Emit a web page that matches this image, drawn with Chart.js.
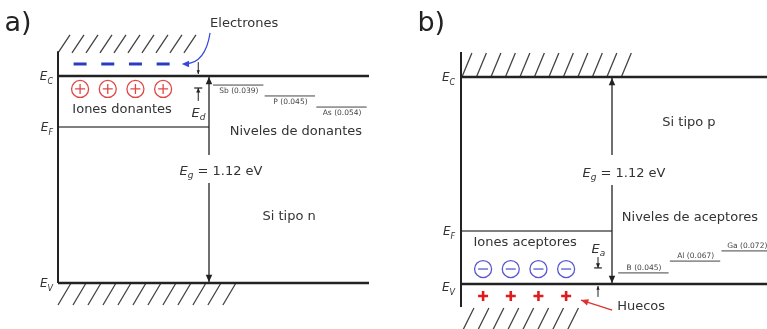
<!DOCTYPE html>
<html>
<head>
<meta charset="utf-8">
<script src="https://cdn.jsdelivr.net/npm/chart.js@4.4.1/dist/chart.umd.min.js"></script>
<style>
  body { margin: 0; background: #fff; }
  .panel { position: absolute; top: 0; width: 383px; height: 329px; }
</style>
</head>
<body>
<div class="panel" style="left:0"><canvas id="panelA" width="383" height="329"></canvas></div>
<div class="panel" style="left:384px"><canvas id="panelB" width="383" height="329"></canvas></div>
<script>
// --- DATOS DEL ESQUEMA (energias en eV medidas desde EV, no a escala) ---
const EV = 0;
const EC = 1.12;
const textoGap = ' = 1.12 eV';

// a) Si tipo n
const donantes = ['Sb (0.039)', 'P (0.045)', 'As (0.054)'];
const nivelesDonantes = [1.071, 1.012, 0.952];
const nivelFermiN = 0.844;
const nivelIonesDonantes = 1.05;
const nivelElectrones = 1.185;

// b) Si tipo p
const aceptores = ['B (0.045)', 'Al (0.067)', 'Ga (0.072)'];
const nivelesAceptores = [0.060, 0.124, 0.179];
const nivelFermiP = 0.287;
const nivelIonesAceptores = 0.081;
const nivelHuecos = -0.065;

// --- DISPOSICION (fraccion del ancho de la banda) ---
const xFlecha = 0.4855;
const xIones = [0.071, 0.160, 0.249, 0.338];
const anchoNivel = 0.166;
const fuente = '"DejaVu Sans", Verdana, sans-serif';
const colorLinea = '#222';
const colorTexto = '#333';

// segmentos [[x0,y0,x1,y1], ...] -> puntos separados por huecos
function segmentos(lista) {
    const d = [];
    lista.forEach(s => {
        d.push({ x: s[0], y: s[1] }, { x: s[2], y: s[3] }, { x: s[2], y: null });
    });
    return d;
}

function rayado(x0, n, paso, yBase, yTope, dx) {
    const s = [];
    for (let i = 0; i < n; i++) s.push([x0 + i * paso, yBase, x0 + i * paso + dx, yTope]);
    return s;
}

function niveles(energias, x0) {
    return energias.map((e, i) => [x0 + i * anchoNivel, e, x0 + (i + 1) * anchoNivel - 0.004, e]);
}

function lineas(data, color, ancho) {
    return { data: segmentos(data), showLine: true, borderColor: color, borderWidth: ancho,
             pointRadius: 0, spanGaps: false, fill: false };
}

function puntos(energia, estilo, radio, color, ancho) {
    return { data: xIones.map(x => ({ x, y: energia })), showLine: false, pointStyle: estilo,
             pointRadius: radio, borderColor: color, backgroundColor: 'rgba(0,0,0,0)', borderWidth: ancho };
}

// --- HELPERS DE DIBUJO ---
function texto(ctx, s, x, y, size, align, color) {
    ctx.font = size + 'px ' + fuente;
    ctx.fillStyle = color || colorTexto;
    ctx.textAlign = align || 'center';
    ctx.textBaseline = 'middle';
    ctx.fillText(s, x, y);
}

function energia(ctx, sub, x, y, size, align, resto) {
    const fE = 'italic ' + size + 'px ' + fuente;
    const fS = 'italic ' + Math.round(size * 0.7) + 'px ' + fuente;
    const fR = size + 'px ' + fuente;
    ctx.font = fE; const wE = ctx.measureText('E').width;
    ctx.font = fS; const wS = ctx.measureText(sub).width;
    ctx.font = fR; const wR = resto ? ctx.measureText(resto).width : 0;
    const total = wE + wS + wR;
    const x0 = align === 'right' ? x - total : align === 'center' ? x - total / 2 : x;
    const base = y + size * 0.36;
    ctx.fillStyle = colorTexto;
    ctx.textAlign = 'left';
    ctx.textBaseline = 'alphabetic';
    ctx.font = fE; ctx.fillText('E', x0, base);
    ctx.font = fS; ctx.fillText(sub, x0 + wE, base + size * 0.28);
    if (resto) { ctx.font = fR; ctx.fillText(resto, x0 + wE + wS, base); }
}

function punta(ctx, x1, y1, ang, size, color) {
    ctx.fillStyle = color;
    ctx.beginPath();
    ctx.moveTo(x1, y1);
    ctx.lineTo(x1 - size * Math.cos(ang - 0.42), y1 - size * Math.sin(ang - 0.42));
    ctx.lineTo(x1 - size * Math.cos(ang + 0.42), y1 - size * Math.sin(ang + 0.42));
    ctx.closePath();
    ctx.fill();
}

function flecha(ctx, x0, y0, x1, y1, color, size, ancho) {
    ctx.strokeStyle = color;
    ctx.lineWidth = ancho || 1.2;
    ctx.beginPath(); ctx.moveTo(x0, y0); ctx.lineTo(x1, y1); ctx.stroke();
    punta(ctx, x1, y1, Math.atan2(y1 - y0, x1 - x0), size, color);
}

function dibujoPlugin(id, fn) {
    return {
        id: id,
        afterDatasetsDraw(chart) {
            const X = v => chart.scales.x.getPixelForValue(v);
            const Y = v => chart.scales.y.getPixelForValue(v);
            chart.ctx.save();
            fn(chart.ctx, X, Y);
            chart.ctx.restore();
        }
    };
}

function crearPanel(id, datasets, xr, yr, plugin) {
    return new Chart(document.getElementById(id), {
        type: 'scatter',
        data: { datasets },
        options: {
            responsive: false,
            animation: false,
            events: [],
            layout: { padding: 0, autoPadding: false },
            plugins: { legend: { display: false }, tooltip: { enabled: false } },
            scales: {
                x: { type: 'linear', min: xr[0], max: xr[1], display: false },
                y: { type: 'linear', min: yr[0], max: yr[1], display: false }
            }
        },
        plugins: [plugin]
    });
}

// --- a) SI TIPO N ---
crearPanel('panelA', [
    lineas([[0, EC, 1, EC], [0, EV, 1, EV]], colorLinea, 2.6),
    lineas([[0, 1.254, 0, EV]], colorLinea, 2),
    lineas([[0, nivelFermiN, xFlecha, nivelFermiN]], '#555', 1.4),
    lineas(niveles(nivelesDonantes, xFlecha + 0.013), '#444', 1),
    lineas(rayado(0, 10, 0.045, 1.245, 1.342, 0.0386), '#444', 1.3),
    lineas(rayado(0, 12, 0.0482, -0.119, EV, 0.042), '#444', 1.3),
    puntos(nivelIonesDonantes, 'circle', 8.5, '#e04848', 1.3),
    puntos(nivelIonesDonantes, 'cross', 5, '#e04848', 1.3),
    puntos(nivelElectrones, 'line', 6.5, '#2a3cbf', 3)
], [-0.1865, 1.045], [-0.2489, 1.5312], dibujoPlugin('dibujoA', (ctx, X, Y) => {
    texto(ctx, 'a)', X(-0.172), Y(1.401), 27, 'left', '#222');
    energia(ctx, 'C', X(-0.016), Y(EC), 12, 'right');
    energia(ctx, 'F', X(-0.016), Y(nivelFermiN), 12, 'right');
    energia(ctx, 'V', X(-0.016), Y(EV), 12, 'right');

    // Eg
    flecha(ctx, X(xFlecha), Y(0.693), X(xFlecha), Y(EC) + 1, '#222', 8, 1.3);
    flecha(ctx, X(xFlecha), Y(0.541), X(xFlecha), Y(EV) - 1, '#222', 8, 1.3);
    energia(ctx, 'g', X(0.524), Y(0.611), 13, 'center', textoGap);

    // Ed
    flecha(ctx, X(0.451), Y(1.195), X(0.451), Y(EC) - 2, '#222', 4, 1);
    ctx.strokeStyle = '#222'; ctx.lineWidth = 1.2;
    ctx.beginPath(); ctx.moveTo(X(0.438), Y(1.055)); ctx.lineTo(X(0.464), Y(1.055)); ctx.stroke();
    flecha(ctx, X(0.451), Y(0.985), X(0.451), Y(1.055), '#222', 5, 1);
    energia(ctx, 'd', X(0.452), Y(0.925), 13, 'center');

    // niveles de donantes
    donantes.forEach((d, i) => {
        const xc = xFlecha + 0.013 + (i + 0.5) * anchoNivel;
        texto(ctx, d, X(xc), Y(nivelesDonantes[i]) + 6, 7.5, 'center', '#444');
    });

    // electrones
    ctx.strokeStyle = '#3346dd'; ctx.lineWidth = 1.2;
    ctx.beginPath();
    ctx.moveTo(X(0.489), Y(1.353));
    ctx.quadraticCurveTo(X(0.474), Y(1.19), X(0.41), Y(nivelElectrones));
    ctx.stroke();
    punta(ctx, X(0.398), Y(nivelElectrones), Math.PI, 8, '#3346dd');
    texto(ctx, 'Electrones', X(0.489), Y(1.401), 13, 'left');

    texto(ctx, 'Iones donantes', X(0.206), Y(0.936), 13);
    texto(ctx, 'Niveles de donantes', X(0.765), Y(0.817), 13);
    texto(ctx, 'Si tipo n', X(0.743), Y(0.357), 13);
}));

// --- b) SI TIPO P ---
crearPanel('panelB', [
    lineas([[0, EC, 1, EC], [0, EV, 1, EV]], colorLinea, 2.6),
    lineas([[0, 1.255, 0, -0.124]], colorLinea, 2),
    lineas([[0, nivelFermiP, xFlecha, nivelFermiP]], '#555', 1.4),
    lineas(niveles(nivelesAceptores, xFlecha + 0.02), '#444', 1),
    lineas(rayado(0.003, 12, 0.0466, EC, 1.25, 0.032), '#444', 1.3),
    lineas(rayado(0.003, 8, 0.048, -0.26, -0.130, 0.0386), '#444', 1.3),
    puntos(nivelIonesAceptores, 'circle', 8.5, '#5858d4', 1.3),
    puntos(nivelIonesAceptores, 'line', 5, '#5858d4', 1.3),
    puntos(nivelHuecos, 'cross', 5, '#e01c1c', 2.6)
], [-0.2476, 0.9839], [-0.2435, 1.5366], dibujoPlugin('dibujoB', (ctx, X, Y) => {
    texto(ctx, 'b)', X(-0.140), Y(1.407), 27, 'left', '#222');
    energia(ctx, 'C', X(-0.019), Y(EC), 12, 'right');
    energia(ctx, 'F', X(-0.019), Y(nivelFermiP), 12, 'right');
    energia(ctx, 'V', X(-0.019), Y(EV) + 3, 12, 'right');

    // Eg
    flecha(ctx, X(xFlecha), Y(0.698), X(xFlecha), Y(EC) + 1, '#222', 8, 1.3);
    flecha(ctx, X(xFlecha), Y(0.536), X(xFlecha), Y(EV) - 1, '#222', 8, 1.3);
    energia(ctx, 'g', X(0.524), Y(0.606), 13, 'center', textoGap);

    // Ea
    ctx.strokeStyle = '#222'; ctx.lineWidth = 1.2;
    ctx.beginPath(); ctx.moveTo(X(0.428), Y(0.087)); ctx.lineTo(X(0.453), Y(0.087)); ctx.stroke();
    flecha(ctx, X(0.4405), Y(0.146), X(0.4405), Y(0.087), '#222', 5, 1);
    flecha(ctx, X(0.4405), Y(-0.070), X(0.4405), Y(EV) + 2, '#222', 4, 1);
    energia(ctx, 'a', X(0.4415), Y(0.195), 13, 'center');

    // niveles de aceptores
    aceptores.forEach((a, i) => {
        const xc = xFlecha + 0.02 + (i + 0.5) * anchoNivel;
        texto(ctx, a, X(xc), Y(nivelesAceptores[i]) - 5, 7.5, 'center', '#444');
    });

    // huecos
    flecha(ctx, X(0.486), Y(-0.141), X(0.386), Y(-0.087), '#e03030', 8, 1.3);
    texto(ctx, 'Huecos', X(0.502), Y(-0.124), 13, 'left');

    texto(ctx, 'Si tipo p', X(0.733), Y(0.871), 13);
    texto(ctx, 'Niveles de aceptores', X(0.736), Y(0.357), 13);
    texto(ctx, 'Iones aceptores', X(0.206), Y(0.222), 13);
}));
</script>
</body>
</html>
